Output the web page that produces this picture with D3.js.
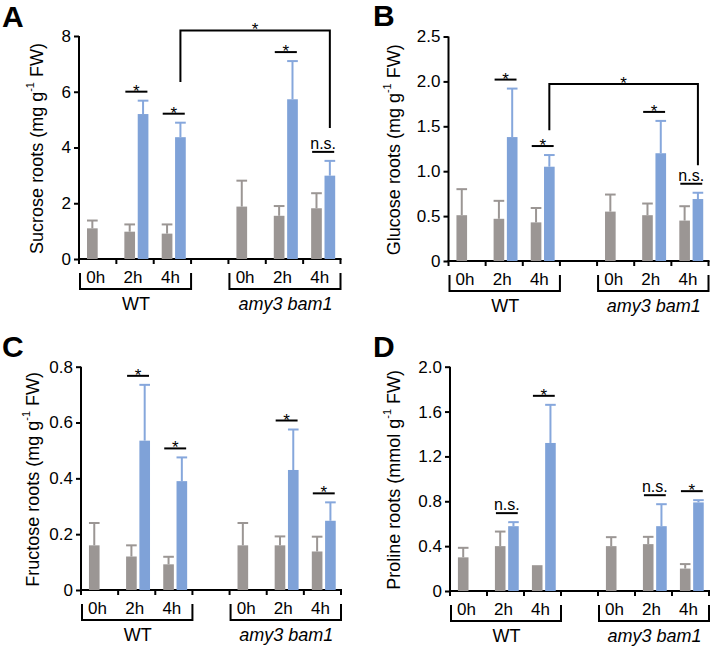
<!DOCTYPE html>
<html>
<head>
<meta charset="utf-8">
<script src="https://cdn.jsdelivr.net/npm/d3@7/dist/d3.min.js"></script>
<style>
  html, body { margin: 0; padding: 0; background: #fff; }
  svg { display: block; font-family: "Liberation Sans", Arial, sans-serif; }
</style>
</head>
<body>
<svg id="chart" width="713" height="649"></svg>
<script>
// ---------------- DATA ----------------
const groups = ["WT", "amy3 bam1"];
const times = ["0h", "2h", "4h"];
// conditions in order: WT 0h, WT 2h, WT 4h, amy3 bam1 0h, 2h, 4h
const sucroseCtrl   = [1.10, 0.98, 0.91, 1.88, 1.55, 1.82];
const sucroseCtrlSD = [0.28, 0.26, 0.33, 0.93, 0.35, 0.54];
const sucroseTrt    = [null, 5.20, 4.37, null, 5.73, 2.99];
const sucroseTrtSD  = [null, 0.48, 0.52, null, 1.37, 0.53];
const sucroseSig    = ["", "*", "*", "", "*", "n.s."];
const sucroseTicks  = [0, 2, 4, 6, 8];

const glucoseCtrl   = [0.51, 0.47, 0.43, 0.55, 0.51, 0.45];
const glucoseCtrlSD = [0.29, 0.20, 0.16, 0.19, 0.13, 0.16];
const glucoseTrt    = [null, 1.38, 1.05, null, 1.20, 0.69];
const glucoseTrtSD  = [null, 0.54, 0.13, null, 0.36, 0.07];
const glucoseSig    = ["", "*", "*", "", "*", "n.s."];
const glucoseTicks  = [0, 0.5, 1.0, 1.5, 2.0, 2.5];

const fructoseCtrl   = [0.16, 0.12, 0.092, 0.16, 0.16, 0.138];
const fructoseCtrlSD = [0.08, 0.04, 0.027, 0.08, 0.032, 0.053];
const fructoseTrt    = [null, 0.535, 0.39, null, 0.43, 0.248];
const fructoseTrtSD  = [null, 0.20, 0.085, null, 0.145, 0.066];
const fructoseSig    = ["", "*", "*", "", "*", "*"];
const fructoseTicks  = [0, 0.2, 0.4, 0.6, 0.8];

const prolineCtrl   = [0.30, 0.40, 0.23, 0.40, 0.418, 0.20];
const prolineCtrlSD = [0.085, 0.13, 0, 0.08, 0.065, 0.04];
const prolineTrt    = [null, 0.578, 1.32, null, 0.578, 0.79];
const prolineTrtSD  = [null, 0.036, 0.34, null, 0.196, 0.02];
const prolineSig    = ["", "n.s.", "*", "", "n.s.", "*"];
const prolineTicks  = [0, 0.4, 0.8, 1.2, 1.6, 2.0];

// ---------------- STYLE / LAYOUT ----------------
const GRAY = "#9b9694";
const BLUE = "#7fa2d8";
const BLUE_ERR = "#86a7dc";

const panels = [
  { letter: "A", title: "Sucrose roots (mg g", ctrl: sucroseCtrl, ctrlSD: sucroseCtrlSD, trt: sucroseTrt, trtSD: sucroseTrtSD,
    sig: sucroseSig, ticks: sucroseTicks, fmt: d => d3.format("d")(d),
    x0: 79, x1: 340.5, yZero: 259, yTop: 36, titleX: 37, letterX: 2, letterY: 27,
    bracket: { top: 8.2, left: 6.35, right: 4.7 } },
  { letter: "B", title: "Glucose roots (mg g", ctrl: glucoseCtrl, ctrlSD: glucoseCtrlSD, trt: glucoseTrt, trtSD: glucoseTrtSD,
    sig: glucoseSig, ticks: glucoseTicks, fmt: d => d === 0 ? "0" : d3.format(".1f")(d),
    x0: 448.5, x1: 708.5, yZero: 261, yTop: 36.5, titleX: 394, letterX: 373, letterY: 26,
    bracket: { top: 1.97, left: 1.455, right: 1.067 } },
  { letter: "C", title: "Fructose roots (mg g", ctrl: fructoseCtrl, ctrlSD: fructoseCtrlSD, trt: fructoseTrt, trtSD: fructoseTrtSD,
    sig: fructoseSig, ticks: fructoseTicks, fmt: d => d === 0 ? "0" : d3.format(".1f")(d),
    x0: 81, x1: 341, yZero: 590, yTop: 366.7, titleX: 33, letterX: 2, letterY: 357, bracket: null },
  { letter: "D", title: "Proline roots (mmol g", ctrl: prolineCtrl, ctrlSD: prolineCtrlSD, trt: prolineTrt, trtSD: prolineTrtSD,
    sig: prolineSig, ticks: prolineTicks, fmt: d => d === 0 ? "0" : d3.format(".1f")(d),
    x0: 450, x1: 709, yZero: 591, yTop: 366.7, titleX: 394, letterX: 373, letterY: 357, bracket: null }
];

const svg = d3.select("#chart");
const TICK_FONT = 17;
const TITLE_FONT = 18;
const GROUP_FONT = 18;

// band slots: 0h 2h 4h | gap | 0h 2h 4h
const slots = ["WT|0h", "WT|2h", "WT|4h", "gap", "M|0h", "M|2h", "M|4h"];
const condSlots = ["WT|0h", "WT|2h", "WT|4h", "M|0h", "M|2h", "M|4h"];

panels.forEach(p => {
  const g = svg.append("g");
  const yMax = p.ticks[p.ticks.length - 1];
  const y = d3.scaleLinear().domain([0, yMax]).range([p.yZero, p.yTop]);
  const x = d3.scaleBand().domain(slots).range([p.x0, p.x1]).paddingInner(0).paddingOuter(0);
  const bw = x.bandwidth();
  const inner = d3.scaleBand().domain(["ctrl", "trt"])
    .range([bw * 0.214, bw * 0.858]).paddingInner(0.2).paddingOuter(0);
  const barW = inner.bandwidth();

  // Panel letter
  g.append("text").attr("x", p.letterX).attr("y", p.letterY)
    .attr("font-size", 30).attr("font-weight", "bold").attr("fill", "#000").text(p.letter);

  // Y axis
  const yAxis = d3.axisLeft(y).tickValues(p.ticks).tickFormat(p.fmt).tickSize(5).tickPadding(3);
  const ya = g.append("g").attr("transform", `translate(${p.x0},0)`).call(yAxis);
  ya.select(".domain").attr("stroke", "#000").attr("stroke-width", 2).attr("d", `M0,${p.yZero}V${p.yTop}`);
  ya.selectAll(".tick line").attr("stroke", "#000").attr("stroke-width", 2);
  ya.selectAll(".tick text").attr("font-size", TICK_FONT).attr("fill", "#000")
    .attr("font-family", "'Liberation Sans', Arial, sans-serif");

  // X axis: ticks at band boundaries
  const bounds = slots.map(s => x(s)).concat([p.x1]);
  const xa = g.append("g");
  xa.append("line").attr("x1", p.x0 - 1).attr("x2", p.x1 + 1).attr("y1", p.yZero).attr("y2", p.yZero)
    .attr("stroke", "#000").attr("stroke-width", 2);
  xa.selectAll("line.tk").data(bounds).enter().append("line").attr("class", "tk")
    .attr("x1", d => d).attr("x2", d => d).attr("y1", p.yZero).attr("y2", p.yZero + 5)
    .attr("stroke", "#000").attr("stroke-width", 2);

  // Y title
  const tt = g.append("text")
    .attr("transform", `translate(${p.titleX},${(p.yZero + p.yTop) / 2 + 1}) rotate(-90)`)
    .attr("text-anchor", "middle").attr("dominant-baseline", "central")
    .attr("font-size", TITLE_FONT).attr("fill", "#000");
  tt.append("tspan").text(p.title);
  tt.append("tspan").attr("font-size", 11).attr("dy", -7).text("-1");
  tt.append("tspan").attr("dy", 7).text(" FW)");

  // Bars
  const rows = condSlots.map((s, i) => ({ slot: s, i,
    ctrl: p.ctrl[i], ctrlSD: p.ctrlSD[i], trt: p.trt[i], trtSD: p.trtSD[i], sig: p.sig[i] }));

  rows.forEach(r => {
    const bx = x(r.slot);
    const drawBar = (val, sd, key, fill, errCol) => {
      if (val == null) return;
      const xl = bx + inner(key);
      g.append("rect").attr("x", xl).attr("y", y(val)).attr("width", barW)
        .attr("height", y(0) - y(val)).attr("fill", fill);
      if (sd > 0) {
        const cx = xl + barW / 2;
        g.append("line").attr("x1", cx).attr("x2", cx).attr("y1", y(val)).attr("y2", y(val + sd))
          .attr("stroke", errCol).attr("stroke-width", 2);
        g.append("line").attr("x1", xl).attr("x2", xl + barW).attr("y1", y(val + sd)).attr("y2", y(val + sd))
          .attr("stroke", errCol).attr("stroke-width", 2);
      }
    };
    drawBar(r.ctrl, r.ctrlSD, "ctrl", GRAY, GRAY);
    drawBar(r.trt, r.trtSD, "trt", BLUE, BLUE_ERR);

    if (r.sig) {
      const topVal = Math.max(r.ctrl + (r.ctrlSD || 0), r.trt + (r.trtSD || 0));
      const ly = y(topVal) - 9;
      const xl = bx + inner("ctrl") + 1, xr = bx + inner("trt") + barW - 1;
      g.append("line").attr("x1", xl).attr("x2", xr).attr("y1", ly).attr("y2", ly)
        .attr("stroke", "#000").attr("stroke-width", 2);
      if (r.sig === "*") {
        g.append("text").attr("x", (xl + xr) / 2).attr("y", ly + 5).attr("text-anchor", "middle")
          .attr("font-size", 17).attr("fill", "#000").text("*");
      } else {
        g.append("text").attr("x", (xl + xr) / 2).attr("y", ly - 3).attr("text-anchor", "middle")
          .attr("font-size", 16).attr("fill", "#000").text(r.sig);
      }
    }
  });

  // Comparison bracket between WT 4h and mutant 4h treated bars
  if (p.bracket) {
    const lx = x("WT|4h") + inner("trt") + barW / 2;
    const rx = x("M|4h") + inner("trt") + barW / 2;
    const ty = y(p.bracket.top);
    g.append("path")
      .attr("d", `M${lx},${y(p.bracket.left)}V${ty}H${rx}V${y(p.bracket.right)}`)
      .attr("fill", "none").attr("stroke", "#000").attr("stroke-width", 2);
    g.append("text").attr("x", (lx + rx) / 2).attr("y", ty + 5).attr("text-anchor", "middle")
      .attr("font-size", 17).attr("fill", "#000").text("*");
  }

  // Time labels
  condSlots.forEach((s, i) => {
    g.append("text").attr("x", x(s) + bw / 2 - 2).attr("y", p.yZero + 24)
      .attr("text-anchor", "middle").attr("font-size", TICK_FONT).attr("fill", "#000")
      .text(times[i % 3]);
  });

  // Group brackets + labels
  const grp = [
    { name: groups[0], a: x("WT|0h"), b: x("WT|4h") + bw, italic: false },
    { name: groups[1], a: x("M|0h"), b: x("M|4h") + bw, italic: true }
  ];
  grp.forEach(gr => {
    g.append("path")
      .attr("d", `M${gr.a + 1},${p.yZero + 14}V${p.yZero + 30}H${gr.b}V${p.yZero + 14}`)
      .attr("fill", "none").attr("stroke", "#000").attr("stroke-width", 2);
    g.append("text").attr("x", (gr.a + gr.b) / 2 + 1).attr("y", p.yZero + 51)
      .attr("text-anchor", "middle").attr("font-size", GROUP_FONT).attr("fill", "#000")
      .attr("font-style", gr.italic ? "italic" : "normal").text(gr.name);
  });
});
</script>
</body>
</html>
